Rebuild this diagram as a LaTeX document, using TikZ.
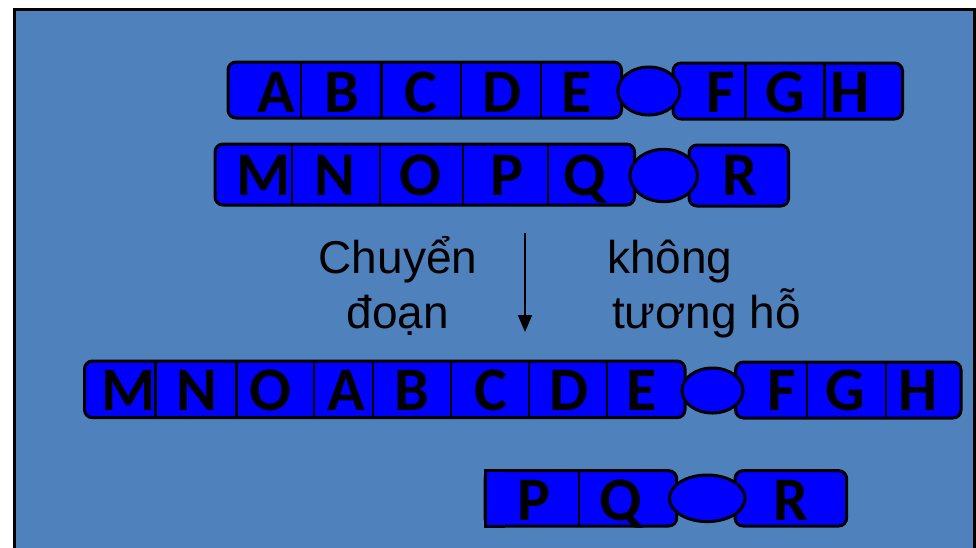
\documentclass[tikz,border=0pt]{standalone}
\usepackage{fontspec}
\setmainfont{Liberation Sans}
\newfontfamily\genefont{Carlito}
\usetikzlibrary{shapes.geometric,arrows.meta,positioning}
\definecolor{slideblue}{RGB}{79,129,189}
\definecolor{chromblue}{RGB}{0,0,255}

\begin{document}
\begin{tikzpicture}[x=1pt,y=-1pt,>={Triangle[length=17pt,width=14pt]},
    arm/.style={rectangle,rounded corners=8pt,draw,fill=chromblue,line width=3pt,inner sep=0pt},
    cen/.style={ellipse,draw,fill=chromblue,line width=3pt,inner sep=0pt},
    divider/.style={line width=2.2pt},
    gene/.style={anchor=base,inner sep=0pt,font=\genefont\bfseries\fontsize{62}{62}\selectfont},
    txt/.style={anchor=base,inner sep=0pt,font=\fontsize{46}{55}\selectfont}]
                \useasboundingbox (0,0) rectangle (976,547);
                \draw[fill=slideblue,line width=2.8pt] (14.2,9.2) rectangle (974.4,580);

                % row 1
                \node[arm] (abcde) [minimum width=393.5pt,minimum height=56pt] at (424.75,90) {};
                \node[arm] (fgh) [minimum width=229.5pt,minimum height=56pt] at (787.75,91) {};
                \foreach \x in {301,381.5,461,541}
                    \draw[divider] (\x,62) -- (\x,118);
                \foreach \x in {745.4,824.4}
                    \draw[divider] (\x,63) -- (\x,119);
                \foreach \g/\x in {A/276,B/341.5,C/421,D/502,E/577,F/721,G/785,H/850}
                    \node[gene] (r1\g) at (\x,112) {\g};
                \node[cen] (cen1) [minimum width=62pt,minimum height=48pt] at (648.8,91) {};

                % row 2
                \node[arm] (mnopq) [minimum width=419.5pt,minimum height=61pt] at (424.75,174.5) {};
                \node[arm] (r) [minimum width=99.6pt,minimum height=61pt] at (738.8,175.5) {};
                \foreach \x in {292,380,463,547.6}
                    \draw[divider] (\x,144) -- (\x,205);
                \foreach \g/\x in {M/264,N/335,O/420,P/506.5,Q/585,R/739.5}
                    \node[gene] (r2\g) at (\x,195) {\g};
                \node[cen] (cen2) [minimum width=67.4pt,minimum height=52.4pt] at (663.7,175.5) {};

                % text and arrow
                \node[txt] (chuyen) at (398,273) {Chuyển};
                \node[txt] (doan) at ([yshift=-55pt]chuyen.base) {đoạn};
                \node[txt,anchor=base west] (khong) at (607,273) {không};
                \node[txt,anchor=base west] (tuong) at ([xshift=5pt,yshift=-55pt]khong.base west) {tương hỗ};
                \coordinate (arrtop) at (525,233);
                \coordinate (arrtip) at (525,332);
                \draw[->,line width=2pt] (arrtop) -- (arrtip);

                % row 3
                \node[arm] (mnoabcde) [minimum width=600.5pt,minimum height=56.7pt] at (384.75,389.35) {};
                \node[arm] (fgh3) [minimum width=225.5pt,minimum height=56pt] at (848.25,390) {};
                \foreach \x in {155.5,236.5,314.3,372.7,450.8,528.9,607}
                    \draw[divider] (\x,361) -- (\x,417.7);
                \foreach \x in {806.7,886}
                    \draw[divider] (\x,362) -- (\x,418);
                \foreach \g/\x in {M/128.5,N/196.5,O/270,A/346.7,B/411.6,C/491,D/569,E/641.5,F/781.6,G/845.7,H/917.7}
                    \node[gene] (r3\g) at (\x,410.5) {\g};
                \node[cen] (cen3) [minimum width=61pt,minimum height=45pt] at (712.5,390.5) {};

                % row 4
                \node[arm] (pq) [minimum width=191.7pt,minimum height=55.3pt] at (580.85,498.35) {};
                \filldraw[fill=chromblue,line width=3pt] (505,470.7) -| (485,526) -- (505,526);
                \node[arm] (r4) [minimum width=111.7pt,minimum height=55.3pt] at (790.85,498.35) {};
                \draw[divider] (579.3,470.7) -- (579.3,526);
                \foreach \g/\x in {P/534,Q/621,R/791}
                    \node[gene] (r4\g) at (\x,520) {\g};
                \node[cen] (cen4) [minimum width=75.6pt,minimum height=46.6pt] at (707.2,498.3) {};
            \end{tikzpicture}
\end{document}
